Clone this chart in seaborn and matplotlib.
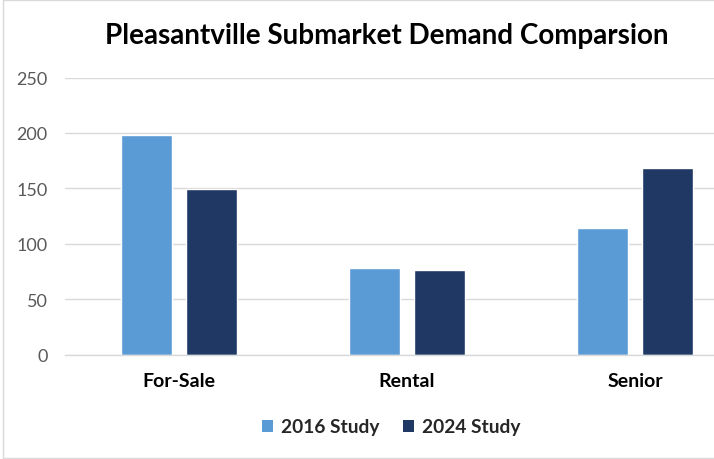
import matplotlib
matplotlib.use("Agg")
import matplotlib.pyplot as plt
import seaborn as sns
import pandas as pd
from matplotlib.patches import Patch
from matplotlib.lines import Line2D

categories = ["For-Sale", "Rental", "Senior"]
series_names = ["2016 Study", "2024 Study"]
values_2016 = [198, 78, 114]
values_2024 = [149, 76, 168]
y_ticks = [0, 50, 100, 150, 200, 250]
title = "Pleasantville Submarket Demand Comparsion"

colors = ["#5B9BD5", "#203864"]

df = pd.DataFrame({
    "Category": categories * 2,
    "Study": [series_names[0]] * 3 + [series_names[1]] * 3,
    "Demand": values_2016 + values_2024,
})

sns.set_theme(style="white")
plt.rcParams["font.family"] = ["Lato", "DejaVu Sans"]

fig = plt.figure(figsize=(7.14, 4.60), dpi=100)
ax = fig.add_axes([65/714, 104.5/460, 684/714, 277/460])

sns.barplot(data=df, x="Category", y="Demand", hue="Study", order=categories,
            hue_order=series_names, palette=colors, width=0.57, gap=0.21,
            saturation=1, ax=ax, legend=False, errorbar=None)

ax.set_ylim(0, 250)
ax.set_xlim(-0.5, 2.5)
ax.set_yticks(y_ticks)
ax.set_yticklabels([str(t) for t in y_ticks], fontsize=13, color="#595959")
ax.tick_params(axis="y", length=0, pad=12.5)
ax.tick_params(axis="x", length=0, pad=12.5)
ax.set_xticks(range(len(categories)))
ax.set_xticklabels(categories, fontsize=14, fontweight="bold", color="black")
ax.set_xlabel("")
ax.set_ylabel("")
ax.grid(axis="y", color="#D9D9D9", linewidth=1)
ax.set_axisbelow(True)
for s in ["top", "right", "left"]:
    ax.spines[s].set_visible(False)
ax.spines["bottom"].set_color("#D9D9D9")
ax.spines["bottom"].set_linewidth(1)

fig.text(386.5/714, 1 - 36/460, title, ha="center", va="center",
         fontsize=20, fontweight="bold", color="black")

handles = [Patch(facecolor=c, edgecolor="none") for c in colors]
leg = fig.legend(handles, series_names, loc="center", bbox_to_anchor=(391/714, 1 - 428/460),
                 ncol=2, frameon=False, prop={"weight": "bold", "size": 13.8},
                 handlelength=0.6, handleheight=0.6, handletextpad=0.4, columnspacing=1.2)

# chart border (right edge cropped)
fig.add_artist(Line2D([3/714, 3/714], [0.5/460, 1 - 0.5/460], transform=fig.transFigure,
                      color="#D9D9D9", linewidth=1))
fig.add_artist(Line2D([3/714, 1], [1 - 0.5/460, 1 - 0.5/460], transform=fig.transFigure,
                      color="#D9D9D9", linewidth=1))
fig.add_artist(Line2D([3/714, 1], [1.5/460, 1.5/460], transform=fig.transFigure,
                      color="#D9D9D9", linewidth=1))

fig.savefig("out.png", dpi=100)
